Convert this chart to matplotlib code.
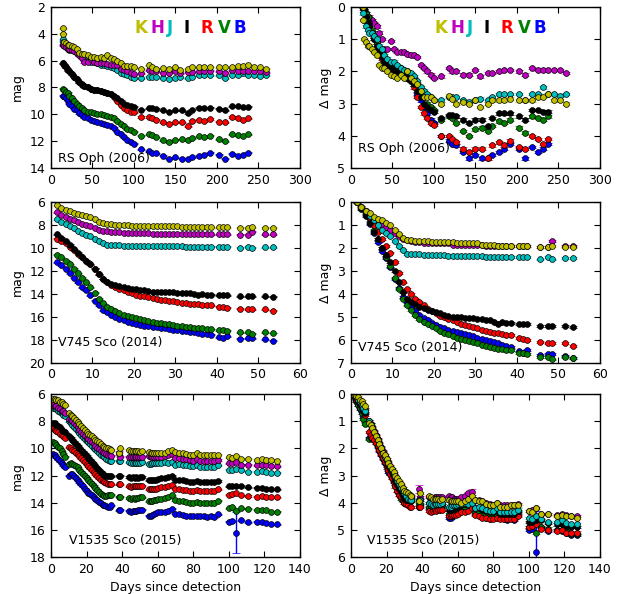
import numpy as np
import matplotlib
matplotlib.use('Agg')
import matplotlib.pyplot as plt

bands = ['K', 'H', 'J', 'I', 'R', 'V', 'B']
colors = {'K': 'y', 'H': 'm', 'J': 'c', 'I': 'k', 'R': 'r', 'V': 'g', 'B': 'b'}

# RS Oph (2006)
rs_days_ir = [14, 15, 16, 18, 20, 22, 25, 28, 31, 34, 37, 40, 44, 48, 52, 56, 60, 64, 68, 72,
              76, 80, 84, 88, 92, 96, 100, 108, 118, 122, 127, 135, 142, 150, 156, 165, 170, 178,
              185, 192, 202, 210, 218, 225, 232, 238, 245, 252, 259]
rs_days_opt = [14, 16, 18, 20, 22, 25, 28, 31, 34, 37, 40, 44, 48, 52, 56, 60, 64, 68, 72, 76,
               80, 84, 88, 92, 96, 100, 108, 118, 122, 127, 135, 142, 150, 158, 165, 170, 178,
               185, 192, 202, 210, 218, 225, 232, 238]
rs_K = [3.6, 4.0, 4.6, 4.7, 4.8, 4.8, 4.9, 5.0, 5.1, 5.4, 5.5, 5.5, 5.6, 5.7, 5.75, 5.8, 5.7,
        5.8, 5.6, 5.8, 5.9, 6.0, 6.2, 6.4, 6.4, 6.4, 6.5, 6.6, 6.35, 6.45, 6.6, 6.55, 6.6, 6.5,
        6.7, 6.6, 6.5, 6.5, 6.5, 6.45, 6.5, 6.5, 6.5, 6.4, 6.4, 6.3, 6.5, 6.5, 6.6]
rs_H = [4.8, 4.85, 4.9, 5.0, 5.1, 5.1, 5.2, 5.3, 5.4, 5.6, 5.8, 6.1, 6.1, 5.85, 6.1, 6.2, 6.2,
        6.2, 6.25, 6.3, 6.3, 6.35, 6.6, 6.7, 6.8, 6.9, 7.0, 6.95, 6.7, 6.8, 6.8, 6.9, 6.9, 6.75,
        6.95, 6.85, 6.85, 6.8, 6.75, 6.75, 6.8, 6.9, 6.7, 6.75, 6.75, 6.75, 6.75, 6.75, 6.85]
rs_J = [4.4, 4.6, 4.8, 5.0, 5.1, 5.2, 5.2, 5.3, 5.4, 5.6, 5.7, 5.9, 6.0, 6.1, 6.1, 6.2, 6.3,
        6.35, 6.4, 6.45, 6.55, 6.7, 6.9, 7.0, 7.1, 7.2, 7.3, 7.3, 7.2, 7.2, 7.2, 7.3, 7.35, 7.3,
        7.25, 7.3, 7.2, 7.1, 7.1, 7.1, 7.1, 7.3, 7.1, 7.1, 6.9, 7.1, 7.1, 7.15, 7.1]
rs_I = [6.2, 6.3, 6.5, 6.7, 6.8, 7.0, 7.2, 7.4, 7.6, 7.75, 7.9, 8.0, 8.1, 8.15, 8.2, 8.25, 8.3,
        8.4, 8.5, 8.6, 8.8, 9.0, 9.2, 9.3, 9.4, 9.45, 9.65, 9.55, 9.55, 9.6, 9.7, 9.8, 9.7, 9.7,
        9.9, 9.65, 9.5, 9.5, 9.5, 9.6, 9.7, 9.4, 9.4, 9.45, 9.45]
rs_R = [6.2, 6.3, 6.5, 6.7, 6.8, 7.0, 7.2, 7.4, 7.6, 7.8, 7.9, 8.0, 8.1, 8.15, 8.2, 8.25, 8.3,
        8.4, 8.5, 8.7, 9.0, 9.3, 9.5, 9.65, 9.8, 9.85, 10.2, 10.2, 10.3, 10.4, 10.6, 10.7, 10.6,
        10.6, 10.9, 10.5, 10.4, 10.5, 10.35, 10.55, 10.6, 10.2, 10.3, 10.45, 10.3]
rs_V = [8.1, 8.2, 8.3, 8.4, 8.6, 8.8, 9.0, 9.2, 9.4, 9.55, 9.7, 9.8, 9.85, 9.9, 9.95, 10.0,
        10.05, 10.1, 10.2, 10.3, 10.5, 10.7, 10.9, 11.1, 11.2, 11.3, 11.6, 11.5, 11.55, 11.7,
        11.95, 12.1, 11.9, 11.85, 11.95, 11.8, 11.65, 11.7, 11.6, 11.85, 12.0, 11.5, 11.55, 11.6, 11.5]
rs_B = [8.6, 8.65, 8.8, 9.0, 9.2, 9.4, 9.6, 9.7, 9.9, 10.05, 10.2, 10.3, 10.4, 10.5, 10.6,
        10.65, 10.7, 10.8, 10.9, 11.0, 11.3, 11.5, 11.7, 11.9, 12.1, 12.2, 12.6, 12.75, 12.85,
        12.9, 13.1, 13.3, 13.2, 13.3, 13.3, 13.2, 13.1, 13.0, 12.85, 13.0, 13.3, 12.95, 13.1, 13.0, 12.85]

# V745 Sco (2014)
v745_days = [1.5, 2.5, 3.5, 4.5, 5.5, 6.5, 7.5, 8.5, 9.5, 10.5, 11.5, 12.5, 13.5, 14.5, 15.5,
             16.5, 17.5, 18.5, 19.5, 20.5, 21.5, 22.5, 23.5, 24.5, 25.5, 26.5, 27.5, 28.5, 29.5,
             30.5, 31.5, 32.5, 33.5, 34.5, 35.5, 36.5, 37.5, 38.5, 40.5, 41.5, 42.5, 45.5, 47.5,
             48.5, 51.5, 53.5]
v745_K = [6.3, 6.5, 6.7, 6.8, 6.95, 7.05, 7.1, 7.2, 7.3, 7.5, 7.7, 7.85, 7.95, 7.95, 8.0, 8.0,
          8.0, 8.0, 8.05, 8.05, 8.05, 8.05, 8.05, 8.05, 8.1, 8.1, 8.1, 8.1, 8.1, 8.1, 8.15, 8.15,
          8.15, 8.15, 8.2, 8.2, 8.2, 8.2, 8.2, 8.2, 8.2, 8.25, 8.25, 8.2, 8.25, 8.25]
v745_H = [6.9, 7.1, 7.3, 7.5, 7.6, 7.75, 7.9, 8.0, 8.1, 8.25, 8.4, 8.5, 8.55, 8.6, 8.65, 8.65,
          8.7, 8.7, 8.7, 8.7, 8.7, 8.7, 8.7, 8.75, 8.75, 8.75, 8.75, 8.75, 8.75, 8.75, 8.75, 8.8,
          8.8, 8.8, 8.8, 8.8, 8.8, 8.8, 8.8, 8.8, 8.8, 8.85, 8.85, 8.6, 8.8, 8.8]
v745_J = [7.5, 7.7, 7.9, 8.1, 8.3, 8.5, 8.7, 8.85, 9.0, 9.2, 9.4, 9.6, 9.75, 9.75, 9.75, 9.75,
          9.8, 9.8, 9.8, 9.8, 9.8, 9.8, 9.85, 9.85, 9.85, 9.85, 9.85, 9.85, 9.85, 9.85, 9.85,
          9.9, 9.9, 9.9, 9.9, 9.9, 9.9, 9.9, 9.9, 9.9, 9.9, 10.0, 9.9, 10.0, 9.95, 9.95]
v745_I = [8.8, 9.1, 9.4, 9.7, 10.1, 10.4, 10.8, 11.1, 11.4, 11.8, 12.3, 12.7, 13.0, 13.15,
          13.25, 13.35, 13.4, 13.5, 13.55, 13.6, 13.65, 13.7, 13.75, 13.8, 13.8, 13.8, 13.85,
          13.85, 13.85, 13.9, 13.9, 13.95, 13.95, 14.0, 14.1, 14.0, 14.05, 14.05, 14.1, 14.1,
          14.1, 14.2, 14.2, 14.2, 14.2, 14.25]
v745_R = [9.2, 9.4, 9.6, 9.9, 10.2, 10.5, 10.8, 11.1, 11.4, 11.8, 12.3, 12.7, 13.0, 13.2, 13.4,
          13.55, 13.7, 13.85, 13.95, 14.05, 14.15, 14.2, 14.3, 14.35, 14.4, 14.5, 14.55, 14.6,
          14.65, 14.7, 14.75, 14.8, 14.85, 14.9, 14.9, 14.95, 15.0, 15.0, 15.1, 15.15, 15.2,
          15.3, 15.35, 15.35, 15.35, 15.45]
v745_V = [10.6, 10.8, 11.1, 11.4, 11.8, 12.2, 12.6, 13.0, 13.4, 13.9, 14.4, 14.8, 15.1, 15.3,
          15.5, 15.7, 15.8, 15.9, 16.0, 16.1, 16.2, 16.3, 16.35, 16.45, 16.5, 16.55, 16.6, 16.65,
          16.7, 16.75, 16.8, 16.85, 16.9, 16.95, 17.0, 17.0, 17.05, 17.05, 17.15, 17.15, 17.2,
          17.35, 17.35, 17.45, 17.35, 17.4]
v745_B = [11.25, 11.5, 11.8, 12.2, 12.6, 13.0, 13.4, 13.7, 14.1, 14.6, 15.0, 15.4, 15.6, 15.8,
          16.0, 16.15, 16.3, 16.4, 16.5, 16.6, 16.7, 16.75, 16.8, 16.85, 16.9, 16.95, 17.0, 17.05,
          17.1, 17.15, 17.2, 17.25, 17.3, 17.35, 17.4, 17.45, 17.5, 17.55, 17.75, 17.8, 17.7,
          17.9, 17.85, 17.85, 17.95, 18.05]

# V1535 Sco (2015)
v1535_days = [1, 2, 3, 4, 5, 6, 7, 8, 10, 11, 12, 13, 14, 15, 16, 17, 18, 19, 20, 21, 22, 23,
              24, 25, 26, 27, 28, 29, 30, 31, 32, 33, 34, 38, 39, 44, 45, 46, 47, 48, 49, 50, 51,
              55, 56, 57, 58, 59, 60, 62, 64, 66, 68, 70, 72, 74, 76, 78, 80, 82, 84, 86, 88, 90,
              92, 94, 100, 102, 104, 107, 111, 116, 119, 121, 124, 127]
v1535_K = [6.35, 6.35, 6.4, 6.45, 6.55, 6.6, 6.7, 6.8, 7.4, 7.5, 7.6, 7.75, 7.9, 8.05, 8.2, 8.35,
           8.5, 8.6, 8.75, 8.9, 9.0, 9.1, 9.2, 9.35, 9.45, 9.55, 9.65, 9.8, 9.9, 9.95, 10.0, 10.05,
           10.1, 10.3, 10.0, 10.1, 10.15, 10.2, 10.2, 10.2, 10.2, 10.25, 10.2, 10.25, 10.3, 10.3,
           10.3, 10.3, 10.3, 10.35, 10.3, 10.2, 10.1, 10.25, 10.3, 10.3, 10.4, 10.45, 10.45, 10.35,
           10.5, 10.5, 10.5, 10.45, 10.45, 10.45, 10.65, 10.7, 10.55, 10.75, 10.75, 10.85, 10.8,
           10.85, 10.85, 10.9]
v1535_H = [6.8, 6.85, 6.9, 7.0, 7.1, 7.2, 7.25, 7.35, 7.8, 7.9, 8.0, 8.15, 8.3, 8.45, 8.6, 8.75,
           8.9, 9.05, 9.2, 9.3, 9.45, 9.55, 9.7, 9.8, 9.95, 10.05, 10.15, 10.25, 10.35, 10.4, 10.5,
           10.5, 10.55, 10.3, 10.6, 10.6, 10.65, 10.65, 10.6, 10.6, 10.6, 10.6, 10.6, 10.55, 10.6,
           10.6, 10.65, 10.65, 10.65, 10.6, 10.55, 10.45, 10.4, 10.7, 10.7, 10.75, 10.8, 10.85,
           10.9, 10.8, 10.9, 10.9, 10.9, 10.9, 10.9, 10.85, 11.1, 11.05, 11.0, 11.2, 11.2, 11.25,
           11.2, 11.25, 11.3, 11.3]
v1535_J = [7.0, 7.05, 7.1, 7.2, 7.3, 7.4, 7.5, 7.6, 8.0, 8.1, 8.25, 8.4, 8.55, 8.7, 8.85, 9.0,
           9.15, 9.3, 9.45, 9.55, 9.7, 9.8, 9.95, 10.05, 10.2, 10.3, 10.45, 10.55, 10.65, 10.75,
           10.85, 10.9, 10.9, 10.9, 10.9, 11.0, 11.05, 11.1, 11.05, 11.05, 11.05, 11.05, 11.0,
           11.15, 11.15, 11.1, 11.1, 11.1, 11.05, 11.05, 11.0, 11.05, 11.0, 11.2, 11.15, 11.2,
           11.25, 11.3, 11.3, 11.2, 11.35, 11.35, 11.35, 11.35, 11.35, 11.25, 11.55, 11.6, 11.5,
           11.6, 11.7, 11.7, 11.65, 11.75, 11.8, 11.8]
v1535_I = [8.1, 8.15, 8.25, 8.35, 8.45, 8.6, 8.7, 8.8, 9.1, 9.2, 9.35, 9.5, 9.65, 9.8, 9.95,
           10.1, 10.25, 10.4, 10.55, 10.7, 10.85, 11.0, 11.15, 11.3, 11.45, 11.6, 11.7, 11.85,
           11.95, 12.0, 12.0, 12.0, 12.05, 12.0, 12.0, 12.1, 12.15, 12.1, 12.15, 12.1, 12.15,
           12.1, 12.1, 12.35, 12.35, 12.3, 12.3, 12.3, 12.25, 12.2, 12.15, 12.1, 12.0, 12.3, 12.3,
           12.35, 12.4, 12.45, 12.45, 12.4, 12.5, 12.5, 12.5, 12.5, 12.5, 12.4, 12.8, 12.8, 12.75,
           12.75, 12.85, 12.9, 12.9, 12.95, 13.0, 13.0]
v1535_R = [8.5, 8.6, 8.7, 8.8, 8.9, 9.0, 9.1, 9.25, 9.9, 10.0, 10.1, 10.2, 10.3, 10.4, 10.55,
           10.7, 10.85, 11.0, 11.15, 11.3, 11.45, 11.6, 11.75, 11.9, 12.05, 12.2, 12.3, 12.4, 12.5,
           12.55, 12.6, 12.65, 12.65, 12.65, 12.65, 12.8, 12.85, 12.8, 12.75, 12.8, 12.75, 12.75,
           12.75, 13.0, 13.0, 12.95, 12.95, 12.95, 12.9, 12.85, 12.85, 12.8, 12.7, 12.95, 13.0,
           13.05, 13.05, 13.1, 13.1, 13.05, 13.1, 13.1, 13.1, 13.1, 13.1, 13.0, 13.4, 13.35, 13.3,
           13.45, 13.5, 13.55, 13.5, 13.6, 13.6, 13.6]
v1535_V = [9.5, 9.6, 9.75, 9.9, 10.0, 10.2, 10.4, 10.6, 11.15, 11.1, 11.15, 11.2, 11.3, 11.4,
           11.55, 11.7, 11.85, 12.0, 12.15, 12.3, 12.45, 12.6, 12.75, 12.9, 13.05, 13.2, 13.35,
           13.45, 13.5, 13.5, 13.45, 13.4, 13.4, 13.55, 13.55, 13.65, 13.7, 13.65, 13.7, 13.65,
           13.65, 13.6, 13.6, 13.9, 13.9, 13.85, 13.8, 13.8, 13.75, 13.7, 13.65, 13.6, 13.45, 13.8,
           13.85, 13.9, 13.95, 14.0, 14.0, 13.95, 14.0, 14.05, 14.05, 14.0, 14.0, 13.85, 14.4,
           14.35, 14.6, 14.4, 14.45, 14.5, 14.5, 14.55, 14.65, 14.65]
v1535_B = [10.4, 10.5, 10.65, 10.8, 10.95, 11.1, 11.25, 11.4, 12.0, 11.85, 11.9, 12.0, 12.2,
           12.35, 12.5, 12.65, 12.8, 12.95, 13.1, 13.25, 13.35, 13.45, 13.6, 13.7, 13.8, 13.95,
           14.05, 14.15, 14.2, 14.25, 14.3, 14.3, 14.2, 14.55, 14.5, 14.6, 14.65, 14.6, 14.6, 14.6,
           14.55, 14.55, 14.5, 14.95, 14.95, 14.9, 14.8, 14.75, 14.7, 14.65, 14.65, 14.6, 14.45,
           14.8, 14.85, 14.9, 14.95, 15.0, 14.95, 14.95, 14.95, 15.0, 15.05, 14.95, 15.05, 14.85,
           15.4, 15.35, 16.2, 15.3, 15.45, 15.4, 15.45, 15.5, 15.6, 15.6]
# large error bars (band, day, size)
v1535_big_err = [('B', 104, 1.5), ('H', 38, 0.15), ('H', 68, 0.12)]

stars = [
    {'name': 'RS Oph (2006)',
     'days': {'K': rs_days_ir, 'H': rs_days_ir, 'J': rs_days_ir, 'I': rs_days_opt,
              'R': rs_days_opt, 'V': rs_days_opt, 'B': rs_days_opt},
     'mags': {'K': rs_K, 'H': rs_H, 'J': rs_J, 'I': rs_I, 'R': rs_R, 'V': rs_V, 'B': rs_B},
     'xlim': (0, 300), 'xticks': range(0, 301, 50),
     'ylim': (14, 2), 'yticks': range(2, 15, 2), 'dlim': (5, 0),
     'lab': [(0.03, 0.062), (0.03, 0.118)], 'err': []},
    {'name': 'V745 Sco (2014)',
     'days': {b: v745_days for b in bands},
     'mags': {'K': v745_K, 'H': v745_H, 'J': v745_J, 'I': v745_I, 'R': v745_R, 'V': v745_V, 'B': v745_B},
     'xlim': (0, 60), 'xticks': range(0, 61, 10),
     'ylim': (20, 6), 'yticks': range(6, 21, 2), 'dlim': (7, 0),
     'lab': [(0.03, 0.13), (0.03, 0.093)], 'err': []},
    {'name': 'V1535 Sco (2015)',
     'days': {b: v1535_days for b in bands},
     'mags': {'K': v1535_K, 'H': v1535_H, 'J': v1535_J, 'I': v1535_I, 'R': v1535_R, 'V': v1535_V, 'B': v1535_B},
     'xlim': (0, 140), 'xticks': range(0, 141, 20),
     'ylim': (18, 6), 'yticks': range(6, 19, 2), 'dlim': (6, 0),
     'lab': [(0.072, 0.104), (0.063, 0.104)], 'err': v1535_big_err},
]

plt.rcParams.update({
    'font.size': 9,
    'xtick.direction': 'in', 'ytick.direction': 'in',
    'xtick.top': True, 'ytick.right': True,
    'xtick.major.size': 4, 'ytick.major.size': 4,
    'xtick.major.pad': 4, 'ytick.major.pad': 4,
    'axes.linewidth': 1.0,
})

fig = plt.figure(figsize=(6.33, 5.94), dpi=100)
lefts = [0.0806, 0.5545]
bottoms = [0.7172, 0.389, 0.0623]
heights = [0.271, 0.271, 0.274]

letter_x = [0.36, 0.428, 0.477, 0.545, 0.628, 0.698, 0.76]
# drawing order: left panels K on top; right panels H pushed to the back
orders = [['B', 'V', 'R', 'I', 'J', 'H', 'K'], ['H', 'B', 'V', 'R', 'I', 'J', 'K']]

for row, st in enumerate(stars):
    for col in range(2):
        ax = fig.add_axes([lefts[col], bottoms[row], 0.393, heights[row]])
        for b in orders[col]:
            d = np.array(st['days'][b], dtype=float)
            m = np.array(st['mags'][b], dtype=float)
            if col == 1:
                m = m - m.min()
            yerr = np.full(len(d), 0.04)
            for eb, eday, esize in st['err']:
                if eb == b:
                    yerr[d == eday] = esize
            ax.errorbar(d, m, yerr=yerr, fmt='o', color=colors[b], ecolor=colors[b],
                        mec='k', mew=0.5, ms=4.2, capsize=2.6, elinewidth=1.0)
        ax.set_xlim(st['xlim'])
        ax.set_xticks(list(st['xticks']))
        if col == 0:
            ax.set_ylim(st['ylim'])
            ax.set_yticks(list(st['yticks']))
            ax.set_ylabel('mag')
        else:
            ax.set_ylim(st['dlim'])
            ax.set_yticks(range(0, st['dlim'][0] + 1))
            ax.set_ylabel('\u0394 mag')
        if row == 2:
            ax.set_xlabel('Days since detection')
        lx, ly = st['lab'][col]
        ax.text(lx, ly, st['name'], transform=ax.transAxes, ha='left', va='center', fontsize=9)
        if row == 0:
            for b, xf in zip(bands, letter_x):
                ax.text(xf, 0.87, b, transform=ax.transAxes, ha='center', va='center',
                        color=colors[b], fontsize=12, fontweight='bold')

fig.savefig('out.png', dpi=100)
